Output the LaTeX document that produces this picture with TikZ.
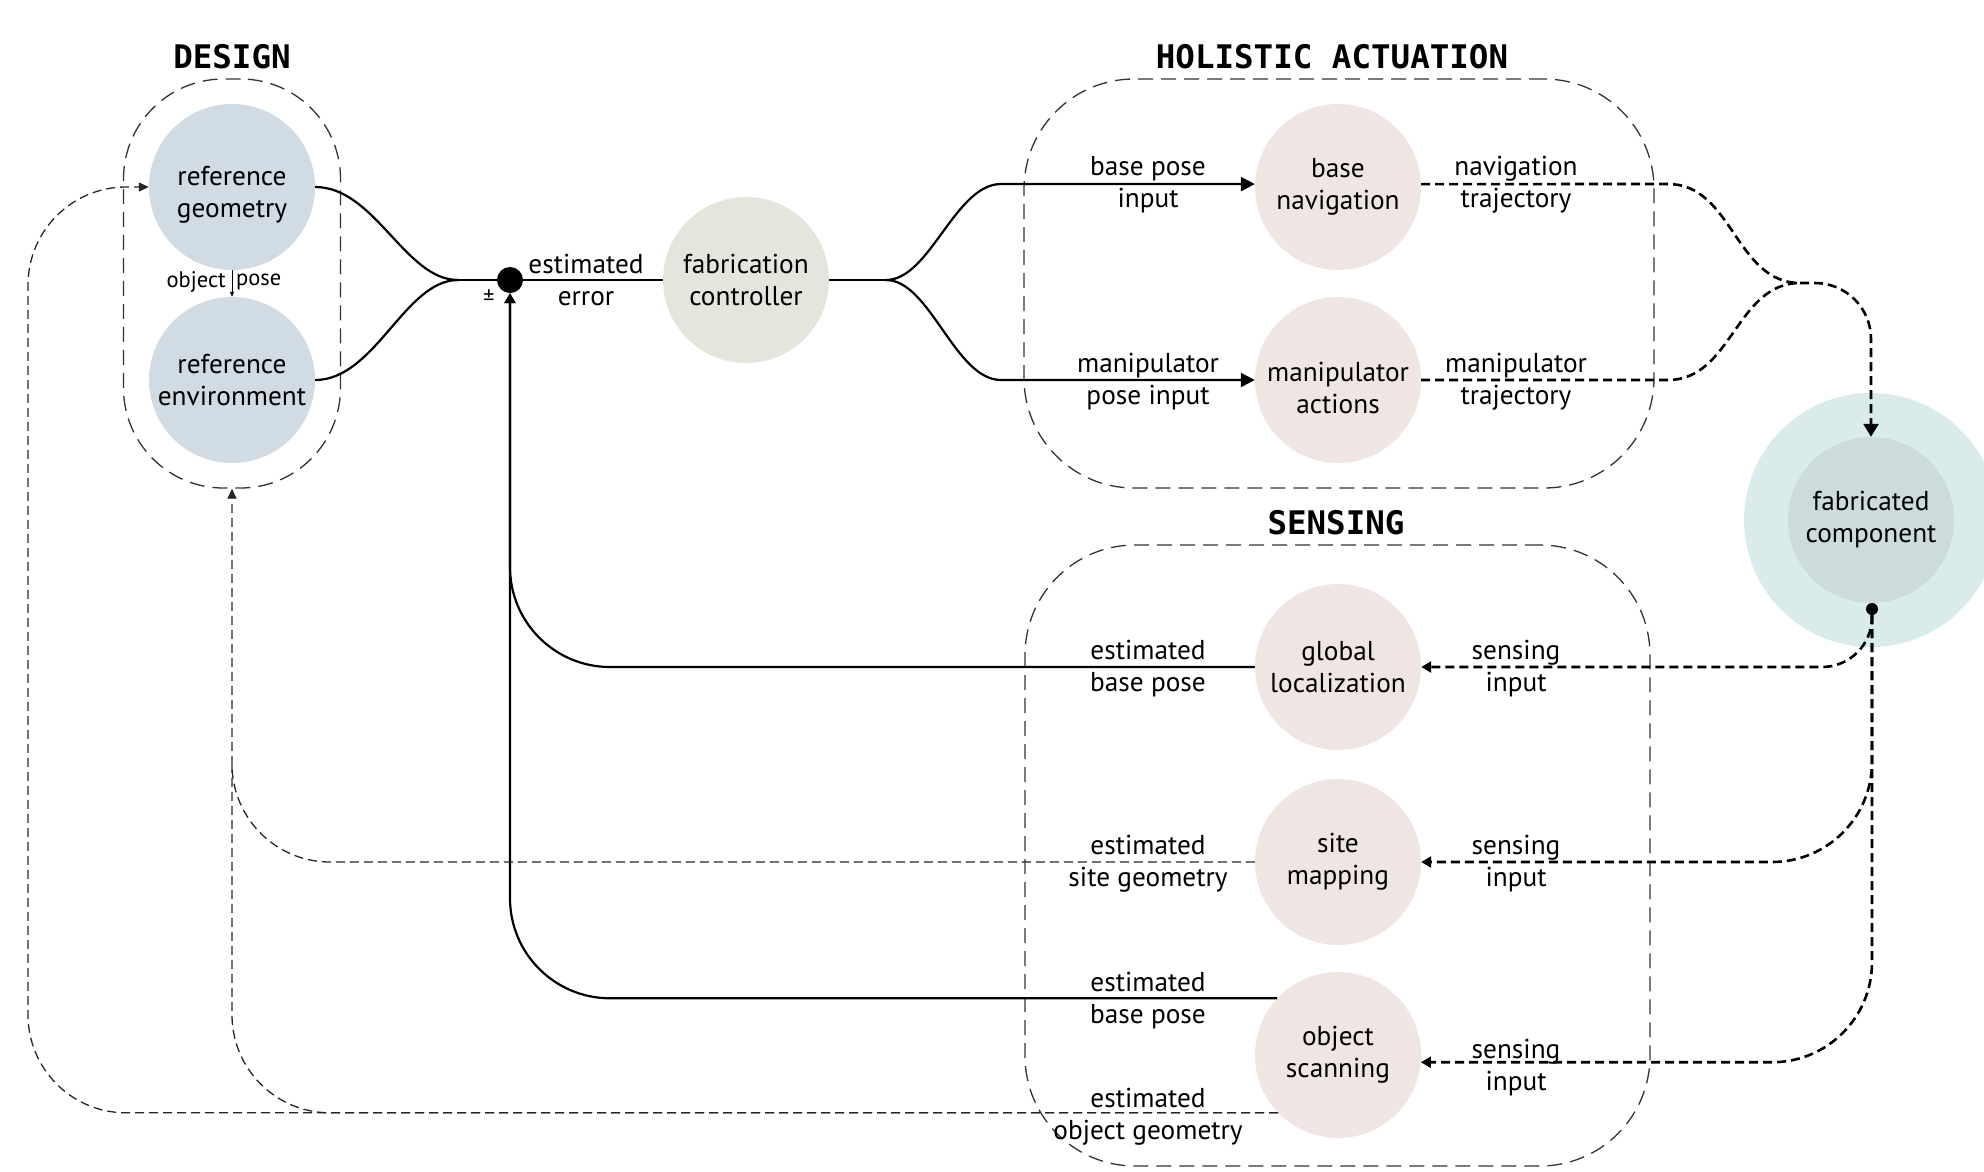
\documentclass[tikz,border=0pt]{standalone}
\usepackage{fontspec}
\setmainfont{PT Sans}
\newfontfamily\titlefont{DejaVu Sans Mono}
\usetikzlibrary{arrows.meta}
\definecolor{refblue}{HTML}{D0DBE4}
\definecolor{ctrlgreen}{HTML}{E4E6DE}
\definecolor{procpink}{HTML}{EFE6E4}
\definecolor{fabouter}{HTML}{D9EBEB}
\definecolor{fabinner}{HTML}{CCDCDC}
\begin{document}
\begin{tikzpicture}[x=1pt,y=-1pt,
  every node/.style={font=\fontsize{27.3}{32}\selectfont, align=center, inner sep=0pt},
  procnode/.style={circle, minimum size=166pt, fill=#1},
  grouptitle/.style={font=\titlefont\bfseries\fontsize{32.5}{32.5}\selectfont},
  groupbox/.style={draw=black!80, line width=1.3pt, dash pattern=on 15pt off 8pt, rounded corners=#1},
  smalltext/.style={font=\fontsize{22.5}{22.5}\selectfont},
  conn/.style={line width=2.2pt, black},
  heavydash/.style={line width=2.6pt, black, dash pattern=on 9pt off 5pt},
  thindash/.style={line width=1.3pt, black!85, dash pattern=on 9pt off 5pt},
  bigtip/.style={-{Triangle[length=14pt,width=14pt]}},
  smalltip/.style={-{Triangle[length=10pt,width=11pt]}},
  heavytip/.style={-{Triangle[length=13pt,width=15pt]}},
  thintip/.style={-{Triangle[length=10pt,width=9pt]}}
]
\clip (0,0) rectangle (1984,1171);
\path[use as bounding box] (0,0) rectangle (1984,1171);

% group boxes
\node[groupbox=100pt, minimum width=217pt, minimum height=409pt] (designbox) at (232,283.5) {};
\node[groupbox=110pt, minimum width=630pt, minimum height=409pt] (actbox) at (1339,283.5) {};
\node[groupbox=110pt, minimum width=625pt, minimum height=621pt] (sensbox) at (1337.5,855.5) {};

% titles
\node[grouptitle] (tdesign) at (232,57) {DESIGN};
\node[grouptitle] (tact) at (1332,57) {HOLISTIC ACTUATION};
\node[grouptitle] (tsens) at (1336,523) {SENSING};

% process nodes
\node[procnode=refblue] (refgeo) at (232,187) {};
\node (refgeotext) at (232,195) {reference\\geometry};
\node[procnode=refblue] (refenv) at (232,380) {reference\\environment};
\node[procnode=ctrlgreen] (fc) at (746,280) {fabrication\\controller};
\node[procnode=procpink] (basenav) at (1338,187) {base\\navigation};
\node[procnode=procpink] (maniact) at (1338,380) {};
\node (maniacttext) at (1338,388) {manipulator\\actions};
\node[procnode=procpink] (globloc) at (1338,667) {global\\localization};
\node[procnode=procpink] (sitemap) at (1338,862) {site\\mapping};
\node[procnode=procpink] (objscan) at (1338,1055) {object\\scanning};
\node[circle, minimum size=254pt, fill=fabouter] (fabout) at (1871,520) {};
\node[procnode=fabinner] (fab) at (1871,520) {fabricated\\component};

% junctions
\node[circle, fill=black, minimum size=26pt] (sum) at (510,280) {};
\node[circle, fill=black, minimum size=12pt] (fabdot) at (1872,609) {};
\coordinate (merge) at (458,280);
\coordinate (split) at (886,280);
\coordinate (tmerge) at (1800,283);
\coordinate (vjoin) at (232,765);
\coordinate (lcorner) at (28,187);

% labels
\node (lerr) at (586,280) {estimated\\error};
\node[font=\fontsize{22}{22}\selectfont] (lpm) at (489,297) {±};
\node[smalltext, anchor=east] (lobj) at (226,282) {object};
\node[smalltext, anchor=west] (lpose) at (236,282) {pose};
\node (lbpi) at (1148,185) {base pose\\input};
\node (lnt) at (1516,185) {navigation\\trajectory};
\node (lmpi) at (1148,382) {manipulator\\pose input};
\node (lmt) at (1516,382) {manipulator\\trajectory};
\node (lebp1) at (1148,669) {estimated\\base pose};
\node (lsi1) at (1516,669) {sensing\\input};
\node (lesg) at (1148,864) {estimated\\site geometry};
\node (lsi2) at (1516,864) {sensing\\input};
\node (lebp2) at (1148,1001) {estimated\\base pose};
\node (lsi3) at (1516,1068) {sensing\\input};
\node (leog) at (1148,1117) {estimated\\object geometry};

% design internal
\draw[line width=1pt, -{Triangle[length=5pt,width=4pt]}] (refgeo.south) -- (refenv.north);

% main solid connectors
\draw[conn] (refgeo.east) .. controls (375,187) and (405,280) .. (merge);
\draw[conn] (refenv.east) .. controls (375,380) and (405,280) .. (merge);
\draw[conn] (merge) -- (sum);
\draw[conn] (sum) -- (fc);
\draw[conn] (fc) -- (split);
\draw[conn, bigtip] (split) .. controls (930,280) and (955,184) .. (1001,184) -- (basenav.178);
\draw[conn, bigtip] (split) .. controls (930,280) and (955,380) .. (1001,380) -- (maniact);

% solid feedback
\draw[conn, smalltip, rounded corners=100pt] (globloc) -| (sum);
\draw[conn, smalltip, rounded corners=100pt] (objscan.137) -| (sum);

% thin dashed feedback
\draw[thindash, thintip, rounded corners=98pt] (sitemap) -| (designbox.south);
\draw[thindash, rounded corners=98pt] (objscan.224) -| (vjoin);
\draw[thindash, thintip, rounded corners=98pt] (objscan.224) -| (lcorner) -- (refgeo);

% actuation trajectories
\draw[heavydash] (basenav.2) -- (1668,184) to[out=0,in=180] (tmerge);
\draw[heavydash] (maniact) -- (1668,380) to[out=0,in=180] (tmerge);
\draw[heavydash, heavytip, rounded corners=56pt] (tmerge) -| (fab);

% sensing inputs
\draw[heavydash, smalltip, rounded corners=50pt] (fabdot) |- (globloc);
\draw[heavydash, smalltip, rounded corners=100pt] (fabdot) |- (sitemap);
\draw[heavydash, smalltip, rounded corners=100pt] (fabdot) |- (objscan.-5);
\end{tikzpicture}
\end{document}
